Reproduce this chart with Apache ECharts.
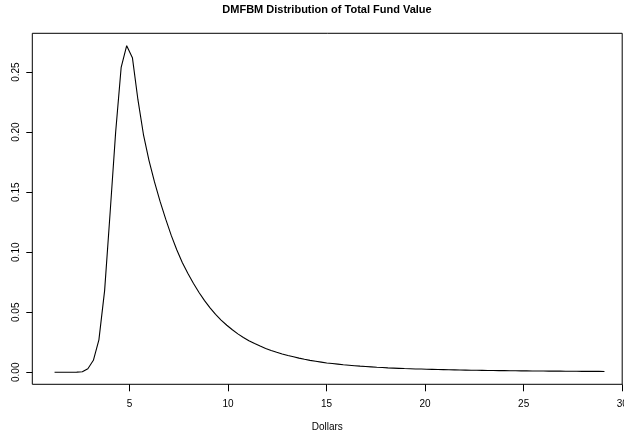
<!DOCTYPE html>
<html>
<head>
<meta charset="utf-8">
<script src="https://cdn.jsdelivr.net/npm/echarts@6/dist/echarts.min.js"></script>
<style>
  html, body { margin: 0; padding: 0; background: #fff; overflow: hidden; }
  #chart { width: 624px; height: 437px; }
</style>
</head>
<body>
<div id="chart"></div>
<script>
// Density of total fund value (dollars), sampled on an even grid
const dollars = [
  1.20, 1.48, 1.76, 2.05, 2.33, 2.61, 2.89, 3.17, 3.45, 3.74,
  4.02, 4.30, 4.58, 4.86, 5.15, 5.43, 5.71, 5.99, 6.27, 6.55,
  6.84, 7.12, 7.40, 7.68, 7.96, 8.25, 8.53, 8.81, 9.09, 9.37,
  9.65, 9.94, 10.22, 10.50, 10.78, 11.06, 11.35, 11.63, 11.91, 12.19,
  12.47, 12.75, 13.04, 13.32, 13.60, 13.88, 14.16, 14.45, 14.73, 15.01,
  15.29, 15.57, 15.85, 16.14, 16.42, 16.70, 16.98, 17.26, 17.55, 17.83,
  18.11, 18.39, 18.67, 18.95, 19.24, 19.52, 19.80, 20.08, 20.36, 20.65,
  20.93, 21.21, 21.49, 21.77, 22.05, 22.34, 22.62, 22.90, 23.18, 23.46,
  23.75, 24.03, 24.31, 24.59, 24.87, 25.15, 25.44, 25.72, 26.00, 26.28,
  26.56, 26.85, 27.13, 27.41, 27.69, 27.97, 28.25, 28.54, 28.82, 29.10
];
const density = [
  0, 0, 0, 0, 0.0001, 0.0005, 0.003, 0.010, 0.027, 0.068,
  0.133, 0.200, 0.254, 0.272, 0.262, 0.227, 0.198, 0.1765, 0.1585, 0.1425,
  0.1275, 0.114, 0.102, 0.0915, 0.0825, 0.0740, 0.0665, 0.0597, 0.0537, 0.0483,
  0.0435, 0.0392, 0.0354, 0.0320, 0.0290, 0.0263, 0.0239, 0.0218, 0.0199, 0.0182,
  0.0167, 0.0153, 0.0140, 0.0129, 0.0118, 0.0108, 0.0099, 0.0092, 0.0085, 0.0078,
  0.0073, 0.0068, 0.0063, 0.0059, 0.0055, 0.0051, 0.0048, 0.0045, 0.0042, 0.0040,
  0.0037, 0.0035, 0.0033, 0.0031, 0.0030, 0.0028, 0.0027, 0.0025, 0.0024, 0.0023,
  0.0022, 0.0021, 0.0020, 0.0019, 0.0018, 0.0017, 0.0017, 0.0016, 0.0015, 0.0015,
  0.0014, 0.0014, 0.0013, 0.0013, 0.0012, 0.0012, 0.0011, 0.0011, 0.0011, 0.0010,
  0.0010, 0.0010, 0.0009, 0.0009, 0.0009, 0.0008, 0.0008, 0.0008, 0.0008, 0.0007
];
const xTicks = [5, 10, 15, 20, 25, 30];
const yTicks = [0, 0.05, 0.10, 0.15, 0.20, 0.25];

const FONT = '"Liberation Sans", Arial, Helvetica, sans-serif';
const chart = echarts.init(document.getElementById('chart'), null, { renderer: 'canvas' });

chart.setOption({
  animation: false,
  backgroundColor: '#ffffff',
  title: {
    text: 'DMFBM Distribution of Total Fund Value',
    left: 327,
    top: 4,
    padding: 0,
    textAlign: 'center',
    textStyle: { fontFamily: FONT, fontSize: 11, fontWeight: 'bold', color: '#000' }
  },
  grid: {
    left: 32.3,
    right: 1.8,
    top: 33.3,
    bottom: 52.7,
    containLabel: false,
    outerBoundsMode: 'none',
    show: true,
    borderColor: '#000',
    borderWidth: 1,
    backgroundColor: 'transparent'
  },
  xAxis: {
    type: 'value',
    min: 0.071,
    max: 30,
    name: 'Dollars',
    nameLocation: 'middle',
    nameGap: 38,
    nameTextStyle: { fontFamily: FONT, fontSize: 10, color: '#000' },
    axisLine: { show: false, onZero: false },
    axisTick: {
      show: true, inside: false, length: 7,
      customValues: xTicks,
      lineStyle: { color: '#000', width: 1 }
    },
    axisLabel: {
      show: true, margin: 15,
      customValues: xTicks,
      hideOverlap: false,
      fontFamily: FONT, fontSize: 10, color: '#000',
      formatter: v => String(v)
    },
    splitLine: { show: false }
  },
  yAxis: {
    type: 'value',
    min: -0.01,
    max: 0.2823,
    axisLine: { show: false, onZero: false },
    axisTick: {
      show: true, inside: false, length: 6,
      customValues: yTicks,
      lineStyle: { color: '#000', width: 1 }
    },
    axisLabel: {
      show: true, margin: 11, rotate: 90,
      customValues: yTicks,
      fontFamily: FONT, fontSize: 10, color: '#000',
      formatter: v => v.toFixed(2)
    },
    splitLine: { show: false }
  },
  series: [{
    type: 'line',
    data: dollars.map((d, i) => [d, density[i]]),
    showSymbol: false,
    symbol: 'none',
    smooth: false,
    lineStyle: { color: '#000', width: 1.1 },
    silent: true
  }]
});
</script>
</body>
</html>
